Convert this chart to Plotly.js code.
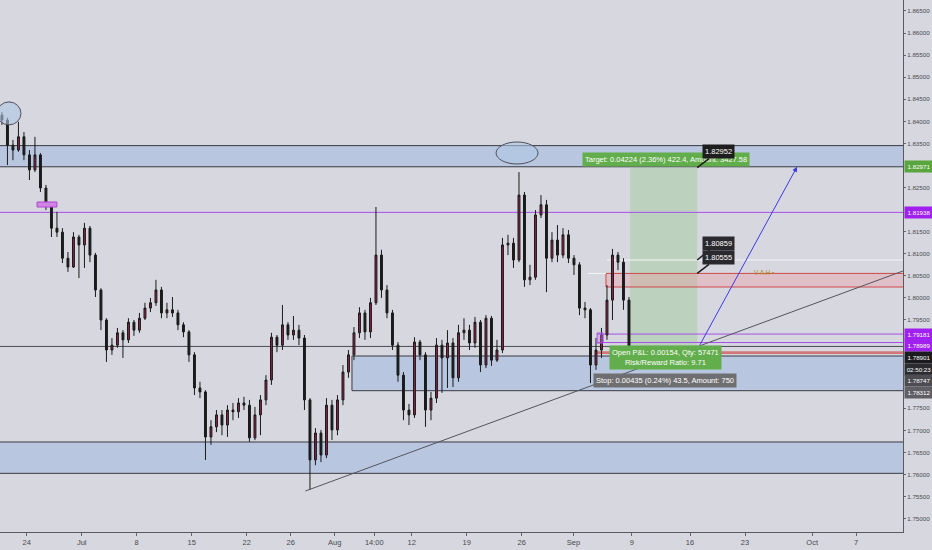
<!DOCTYPE html>
<html><head><meta charset="utf-8">
<script src="https://cdn.plot.ly/plotly-3.0.1.min.js"></script>
<style>html,body{margin:0;padding:0;background:#d6d7df;}#c{width:932px;height:550px;}</style>
</head><body><div id="c"></div>
<script>
// ---- data (12h candles, x = trading-day index, 0 = Jun 24) ----
const firstCandleDay = -2.25;
const candleStep = 0.5;
const opens = [1.8414,1.8403,1.8346,1.8335,1.8365,1.8324,1.8290,1.8324,1.8249,1.8211,
1.8158,1.8149,1.8090,1.8070,1.8138,1.8120,1.8158,1.8097,1.8018,1.7950,
1.7882,1.7893,1.7921,1.7905,1.7945,1.7927,1.7954,1.7977,1.7989,1.8018,
1.7966,1.7973,1.7966,1.7939,1.7923,1.7871,1.7796,1.7787,1.7685,1.7708,
1.7735,1.7712,1.7746,1.7742,1.7762,1.7757,1.7683,1.7735,1.7769,1.7814,
1.7911,1.7893,1.7939,1.7916,1.7927,1.7909,1.7769,1.7633,1.7694,1.7644,
1.7757,1.7701,1.7769,1.7832,1.7871,1.7921,1.7966,1.7923,1.7989,1.8097,
1.8018,1.7966,1.7893,1.7825,1.7746,1.7735,1.7900,1.7871,1.7746,1.7773,
1.7893,1.7864,1.7898,1.7819,1.7921,1.7927,1.7898,1.7945,1.7848,1.7954,
1.7859,1.7882,1.8120,1.8124,1.8086,1.8233,1.8041,1.8047,1.8188,1.8211,
1.8090,1.8131,1.8097,1.8143,1.8090,1.8075,1.7977,1.7973,1.7848,1.7882,
1.7916,1.7995,1.8097,1.8081,1.7995];
const highs = [1.8421,1.8408,1.8358,1.8399,1.8376,1.8335,1.8365,1.8328,1.8256,1.8215,
1.8195,1.8158,1.8104,1.8149,1.8143,1.8170,1.8163,1.8102,1.8022,1.7954,
1.7909,1.7932,1.7927,1.7954,1.7950,1.7966,1.7989,1.8000,1.8041,1.8025,
1.7989,1.8002,1.7973,1.7945,1.7927,1.7877,1.7810,1.7791,1.7723,1.7746,
1.7746,1.7757,1.7762,1.7773,1.7776,1.7769,1.7753,1.7780,1.7825,1.7921,
1.7916,1.7984,1.7945,1.7959,1.7939,1.7916,1.7773,1.7705,1.7701,1.7773,
1.7769,1.7780,1.7848,1.7882,1.7934,1.7979,1.7973,1.8000,1.8206,1.8109,
1.8029,1.7973,1.7900,1.7832,1.7760,1.7911,1.7905,1.7877,1.7787,1.7909,
1.7905,1.7927,1.7909,1.7939,1.7954,1.7939,1.7957,1.7950,1.7961,1.7959,
1.7905,1.8136,1.8143,1.8136,1.8285,1.8240,1.8075,1.8199,1.8233,1.8222,
1.8149,1.8165,1.8158,1.8154,1.8097,1.8081,1.7991,1.7977,1.7909,1.7932,
1.8029,1.8111,1.8104,1.8090,1.8002];
const lows = [1.8392,1.8301,1.8312,1.8331,1.8312,1.8267,1.8285,1.8240,1.8199,1.8138,
1.8138,1.8079,1.8059,1.8068,1.8045,1.8068,1.8081,1.8002,1.7927,1.7855,
1.7871,1.7887,1.7864,1.7898,1.7914,1.7921,1.7950,1.7968,1.7982,1.7954,
1.7954,1.7957,1.7927,1.7911,1.7855,1.7780,1.7773,1.7633,1.7667,1.7696,
1.7689,1.7685,1.7723,1.7728,1.7746,1.7674,1.7678,1.7689,1.7757,1.7803,
1.7877,1.7882,1.7905,1.7905,1.7893,1.7746,1.7565,1.7621,1.7628,1.7637,
1.7678,1.7689,1.7757,1.7819,1.7859,1.7909,1.7905,1.7909,1.7984,1.8000,
1.7954,1.7882,1.7810,1.7723,1.7712,1.7728,1.7859,1.7708,1.7723,1.7762,
1.7785,1.7796,1.7798,1.7810,1.7905,1.7882,1.7887,1.7832,1.7841,1.7846,
1.7855,1.7875,1.8097,1.8068,1.8081,1.8025,1.8029,1.8041,1.8181,1.8013,
1.8081,1.8081,1.8090,1.8079,1.8052,1.7961,1.7954,1.7807,1.7837,1.7864,
1.7905,1.7950,1.8063,1.7973,1.7882];
const closes = [1.8403,1.8346,1.8335,1.8365,1.8324,1.8290,1.8324,1.8249,1.8211,1.8158,
1.8149,1.8090,1.8070,1.8138,1.8120,1.8158,1.8097,1.8018,1.7950,1.7882,
1.7893,1.7921,1.7905,1.7945,1.7927,1.7954,1.7977,1.7989,1.8018,1.7966,
1.7973,1.7966,1.7939,1.7923,1.7871,1.7796,1.7787,1.7685,1.7708,1.7735,
1.7712,1.7746,1.7742,1.7762,1.7757,1.7683,1.7735,1.7769,1.7814,1.7911,
1.7893,1.7939,1.7916,1.7927,1.7909,1.7769,1.7633,1.7694,1.7644,1.7757,
1.7701,1.7769,1.7832,1.7871,1.7921,1.7966,1.7923,1.7989,1.8097,1.8018,
1.7966,1.7893,1.7825,1.7746,1.7735,1.7900,1.7871,1.7746,1.7773,1.7893,
1.7864,1.7898,1.7819,1.7921,1.7927,1.7898,1.7945,1.7848,1.7954,1.7859,
1.7882,1.8120,1.8124,1.8086,1.8233,1.8041,1.8047,1.8188,1.8211,1.8090,
1.8131,1.8097,1.8143,1.8090,1.8075,1.7977,1.7973,1.7848,1.7882,1.7916,
1.7995,1.8097,1.8081,1.7995,1.7891];

const tickDays   = [0,5,10,15,20,24,28,31.6,35,40,45,49.7,55,60.3,65.3,71.4,75.4];
const tickLabels = ['24','Jul','8','15','22','26','Aug','14:00','12','19','26','Sep','9','16','23','Oct','7'];
// price ticks visible on the right scale (others hidden behind level labels)
const priceTicks = [1.865,1.860,1.855,1.850,1.845,1.840,1.835,1.825,1.815,1.810,1.805,1.800,1.795,1.775,1.770,1.765,1.760,1.755,1.750];

// levels
const zoneTop = [1.8345, 1.82971];
const zoneMid = [1.78684, 1.77898];
const zoneLow = [1.76736, 1.76026];
const purpleLevel = 1.81938;
const targetPrice = 1.82952, entryPrice = 1.78901;
const resistLevels = [1.80859, 1.80555, 1.80247];
const magentaLevels = [1.79181, 1.78989];
const redLevels = [1.78774, 1.78747];

const xDays = opens.map((_, i) => firstCandleDay + i * candleStep);

const BG = '#d6d7df';
const trace = {
  type: 'candlestick', x: xDays, open: opens, high: highs, low: lows, close: closes,
  increasing: {line: {color: '#1b1b1b', width: 1}, fillcolor: '#8c2146'},
  decreasing: {line: {color: '#1b1b1b', width: 1}, fillcolor: '#1b1b1b'},
  whiskerwidth: 0, hoverinfo: 'skip', showlegend: false
};

const R = 81;  // beyond right edge (clipped)
const L = -4;
const shapes = [
  {type:'rect', x0:L, x1:R, y0:zoneTop[1], y1:zoneTop[0], fillcolor:'#b8c7df', line:{color:'#3a3a44', width:1}, layer:'below'},
  {type:'rect', x0:29.57, x1:R, y0:zoneMid[1], y1:zoneMid[0], fillcolor:'#b8c7df', line:{color:'#3a3a44', width:1}, layer:'below'},
  {type:'rect', x0:L, x1:R, y0:zoneLow[1], y1:zoneLow[0], fillcolor:'#b8c7df', line:{color:'#3a3a44', width:1}, layer:'below'},
  {type:'rect', x0:54.85, x1:60.95, y0:entryPrice, y1:targetPrice, fillcolor:'rgba(140,200,130,0.35)', line:{width:0}, layer:'below'},
  {type:'rect', x0:52.66, x1:R, y0:resistLevels[2], y1:resistLevels[1], fillcolor:'rgba(240,150,160,0.35)', line:{color:'#d04848', width:1}, layer:'below'},
  {type:'line', x0:52.75, x1:R, y0:resistLevels[0], y1:resistLevels[0], line:{color:'#f4f4f8', width:1}, layer:'below'},
  {type:'line', x0:51.0, x1:52.66, y0:resistLevels[1], y1:resistLevels[1], line:{color:'#f4f4f8', width:1}, layer:'below'},
  {type:'line', x0:L, x1:R, y0:purpleLevel, y1:purpleLevel, line:{color:'#a64ee8', width:1}, layer:'below'},
  {type:'line', x0:51.85, x1:R, y0:magentaLevels[0], y1:magentaLevels[0], line:{color:'#a64ee8', width:1}, layer:'below'},
  {type:'line', x0:51.85, x1:R, y0:magentaLevels[1], y1:magentaLevels[1], line:{color:'#a64ee8', width:1}, layer:'below'},
  {type:'line', x0:L, x1:R, y0:entryPrice, y1:entryPrice, line:{color:'#4a4a52', width:1}, layer:'below'},
  {type:'line', x0:51.7, x1:R, y0:redLevels[0], y1:redLevels[0], line:{color:'#d04848', width:1}, layer:'below'},
  {type:'line', x0:51.7, x1:R, y0:redLevels[1], y1:redLevels[1], line:{color:'#d04848', width:1}, layer:'below'},
  {type:'rect', x0:51.85, x1:52.4, y0:1.78978, y1:1.79205, fillcolor:'rgba(200,120,230,0.4)', line:{color:'#a64ee8', width:1}},
  {type:'rect', x0:0.94, x1:2.75, y0:1.82059, y1:1.82173, fillcolor:'#d283e6', line:{color:'#b048d0', width:1}},
  {type:'circle', x0:-2.7, x1:-0.52, y0:1.8392, y1:1.8444, fillcolor:'rgba(175,198,228,0.6)', line:{color:'#50505a', width:1}},
  {type:'circle', x0:42.67, x1:46.48, y0:1.83034, y1:1.83532, fillcolor:'rgba(175,198,228,0.6)', line:{color:'#50505a', width:1}},
  {type:'line', x0:25.33, y0:1.75625, x1:79.66, y1:1.80610, line:{color:'#55555e', width:1}}
];

const F = 'Liberation Sans, Arial, sans-serif';
function axisLabel(val, txt, bg, shift) {
  return {xref:'paper', x:1, xanchor:'left', xshift:1, yref:'y', y:val, yshift:shift||0,
    text:txt, showarrow:false, bgcolor:bg, font:{family:F, size:6.2, color:'#ffffff'},
    width:26, height:9, borderpad:1, align:'center'};
}
const annotations = [
  {x:70.03, y:1.8297, ax:61.12, ay:entryPrice, axref:'x', ayref:'y', xref:'x', yref:'y',
   showarrow:true, arrowhead:2, arrowsize:1, arrowwidth:1, arrowcolor:'#3b3bea', text:'', standoff:0, startstandoff:0},
  {x:58.07, y:1.83136, text:'Target: 0.04224 (2.36%) 422.4, Amount: 3427.58', showarrow:false,
   bgcolor:'#62ad4c', font:{family:F, size:7.5, color:'#ffffff'}, borderpad:2},
  {x:60.95, y:targetPrice, ax:21, ay:-16, text:'1.82952', showarrow:true, arrowhead:0, arrowwidth:1.5, arrowcolor:'#1e1e1e',
   bgcolor:'#1e1e1e', font:{family:F, size:7.5, color:'#ffffff'}, borderpad:2},
  {x:60.95, y:resistLevels[0], ax:21, ay:-17, text:'1.80859', showarrow:true, arrowhead:0, arrowwidth:1.5, arrowcolor:'#1e1e1e',
   bgcolor:'#2a2a2e', font:{family:F, size:7.5, color:'#ffffff'}, borderpad:2},
  {x:60.95, y:resistLevels[1], ax:21, ay:-16, text:'1.80555', showarrow:true, arrowhead:0, arrowwidth:1.5, arrowcolor:'#1e1e1e',
   bgcolor:'#2a2a2e', font:{family:F, size:7.5, color:'#ffffff'}, borderpad:2},
  {x:58.03, y:1.78650, text:'Open P&L: 0.00154, Qty: 57471<br>Risk/Reward Ratio: 9.71', showarrow:false,
   bgcolor:'#62ad4c', font:{family:F, size:7.5, color:'#ffffff'}, borderpad:2},
  {x:57.98, y:1.78129, text:'Stop: 0.00435 (0.24%) 43.5, Amount: 750', showarrow:false,
   bgcolor:'#6f6f72', font:{family:F, size:7.5, color:'#ffffff'}, borderpad:2},
  {x:67.0, y:1.80580, text:'V A H ▪', showarrow:false, font:{family:F, size:6.5, color:'#b08e1e'}},
  axisLabel(1.82971, '1.82971', '#5aa63e', 0),
  axisLabel(purpleLevel, '1.81938', '#a020f0', 0),
  axisLabel(magentaLevels[0], '1.79181', '#a020f0', 0),
  axisLabel(magentaLevels[1], '1.78989', '#a020f0', -3),
  axisLabel(entryPrice, '1.78901', '#1c1c20', -11),
  axisLabel(entryPrice, '02:50:23', '#2c2c30', -23),
  axisLabel(1.78747, '1.78747', '#4c4c52', -27.5),
  axisLabel(1.78312, '1.78312', '#5e5e64', -20)
];

const layout = {
  width:932, height:550, margin:{l:0, r:29, t:0, b:18},
  paper_bgcolor:BG, plot_bgcolor:BG, showlegend:false, boxgap:0.5,
  xaxis:{range:[-2.427, 79.66], tickvals:tickDays, ticktext:tickLabels, showgrid:false, zeroline:false,
    ticks:'outside', ticklen:3, tickcolor:'#666', showline:true, linecolor:'#5a5a60', linewidth:1,
    tickfont:{family:F, size:7.5, color:'#4a4a50'}, rangeslider:{visible:false}, fixedrange:true},
  yaxis:{side:'right', range:[1.74697, 1.86749], tickvals:priceTicks, tickformat:'.5f',
    showgrid:false, zeroline:false, ticks:'outside', ticklen:2, tickcolor:'#666',
    showline:true, linecolor:'#5a5a60', linewidth:1, mirror:false,
    tickfont:{family:F, size:6.2, color:'#4a4a50'}, fixedrange:true},
  shapes:shapes, annotations:annotations
};
Plotly.newPlot('c', [trace], layout, {displayModeBar:false, staticPlot:true});
</script></body></html>
